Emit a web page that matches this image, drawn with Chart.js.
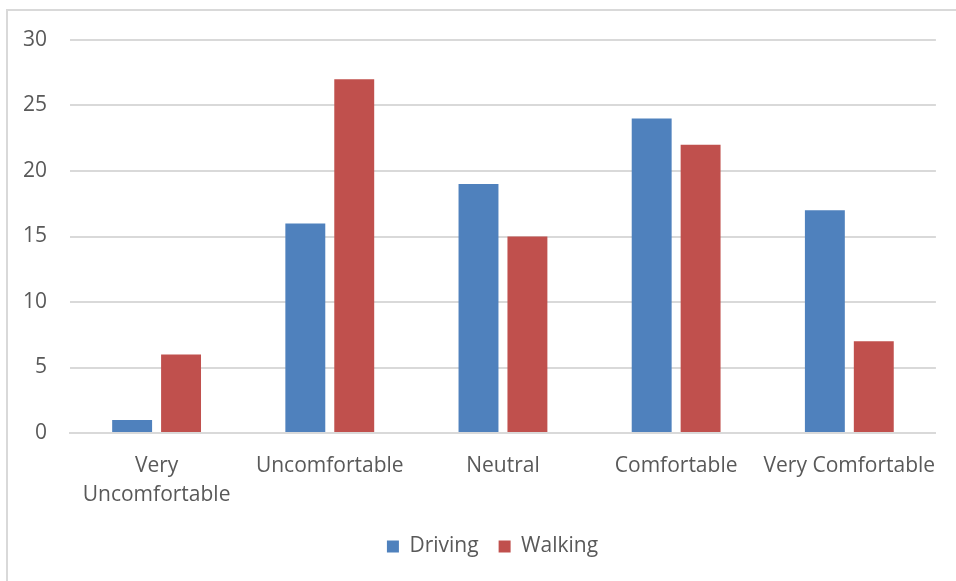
<!DOCTYPE html>
<html>
<head>
<meta charset="utf-8">
<script src="https://cdn.jsdelivr.net/npm/chart.js@4"></script>
<style>
  html,body{margin:0;padding:0;background:#fff;overflow:hidden;}
  #frame{position:absolute;left:6px;top:9px;width:1000px;height:700px;border-left:2px solid #d9d9d9;border-top:2px solid #d9d9d9;}
  #wrap{position:absolute;left:0;top:0;width:956px;height:581px;}
</style>
</head>
<body>
<div id="frame"></div>
<div id="wrap"><canvas id="chart"></canvas></div>
<script>
const categories = [['Very','Uncomfortable'], 'Uncomfortable', 'Neutral', 'Comfortable', 'Very Comfortable'];
const driving = [1, 16, 19, 24, 17];
const walking = [6, 27, 15, 22, 7];
const yTicks = [0, 5, 10, 15, 20, 25, 30];

const txt = '#595959';
const fam = "'Open Sans', sans-serif";

// nudge the legend right, Excel centres it a bit off the canvas middle
const legendShift = {
  id:'legendShift',
  afterLayout(chart){ chart.legend.left += 24; chart.legend.right += 24; }
};

new Chart(document.getElementById('chart'), {
  type:'bar',
  data:{
    labels: categories,
    datasets:[
      {label:'Driving', data:driving, backgroundColor:'#4f81bd', categoryPercentage:0.565, barPercentage:0.816},
      {label:'Walking', data:walking, backgroundColor:'#c0504d', categoryPercentage:0.565, barPercentage:0.816}
    ]
  },
  plugins:[legendShift],
  options:{
    responsive:true, maintainAspectRatio:false, animation:false,
    devicePixelRatio:1,
    layout:{padding:{left:0, right:19, top:40, bottom:14}},
    plugins:{
      tooltip:{enabled:false},
      legend:{position:'bottom', labels:{color:txt, font:{family:fam, size:21}, boxWidth:12, boxHeight:12, padding:20}}
    },
    scales:{
      x:{
        grid:{display:false, drawTicks:false},
        border:{display:true, color:'#d9d9d9', width:2},
        ticks:{color:txt, font:{family:fam, size:21, lineHeight:1.35}, padding:19, maxRotation:0, autoSkip:false},
        afterFit:s=>{ s.height = 83; }
      },
      y:{
        min:0, max:30,
        afterBuildTicks:s=>{ s.ticks = yTicks.map(v=>({value:v})); },
        grid:{color:'#d9d9d9', lineWidth:2, drawTicks:false},
        border:{display:false},
        ticks:{color:txt, font:{family:fam, size:21}, padding:23},
        afterFit:s=>{ s.width = 70; }
      }
    }
  }
});
</script>
</body>
</html>
